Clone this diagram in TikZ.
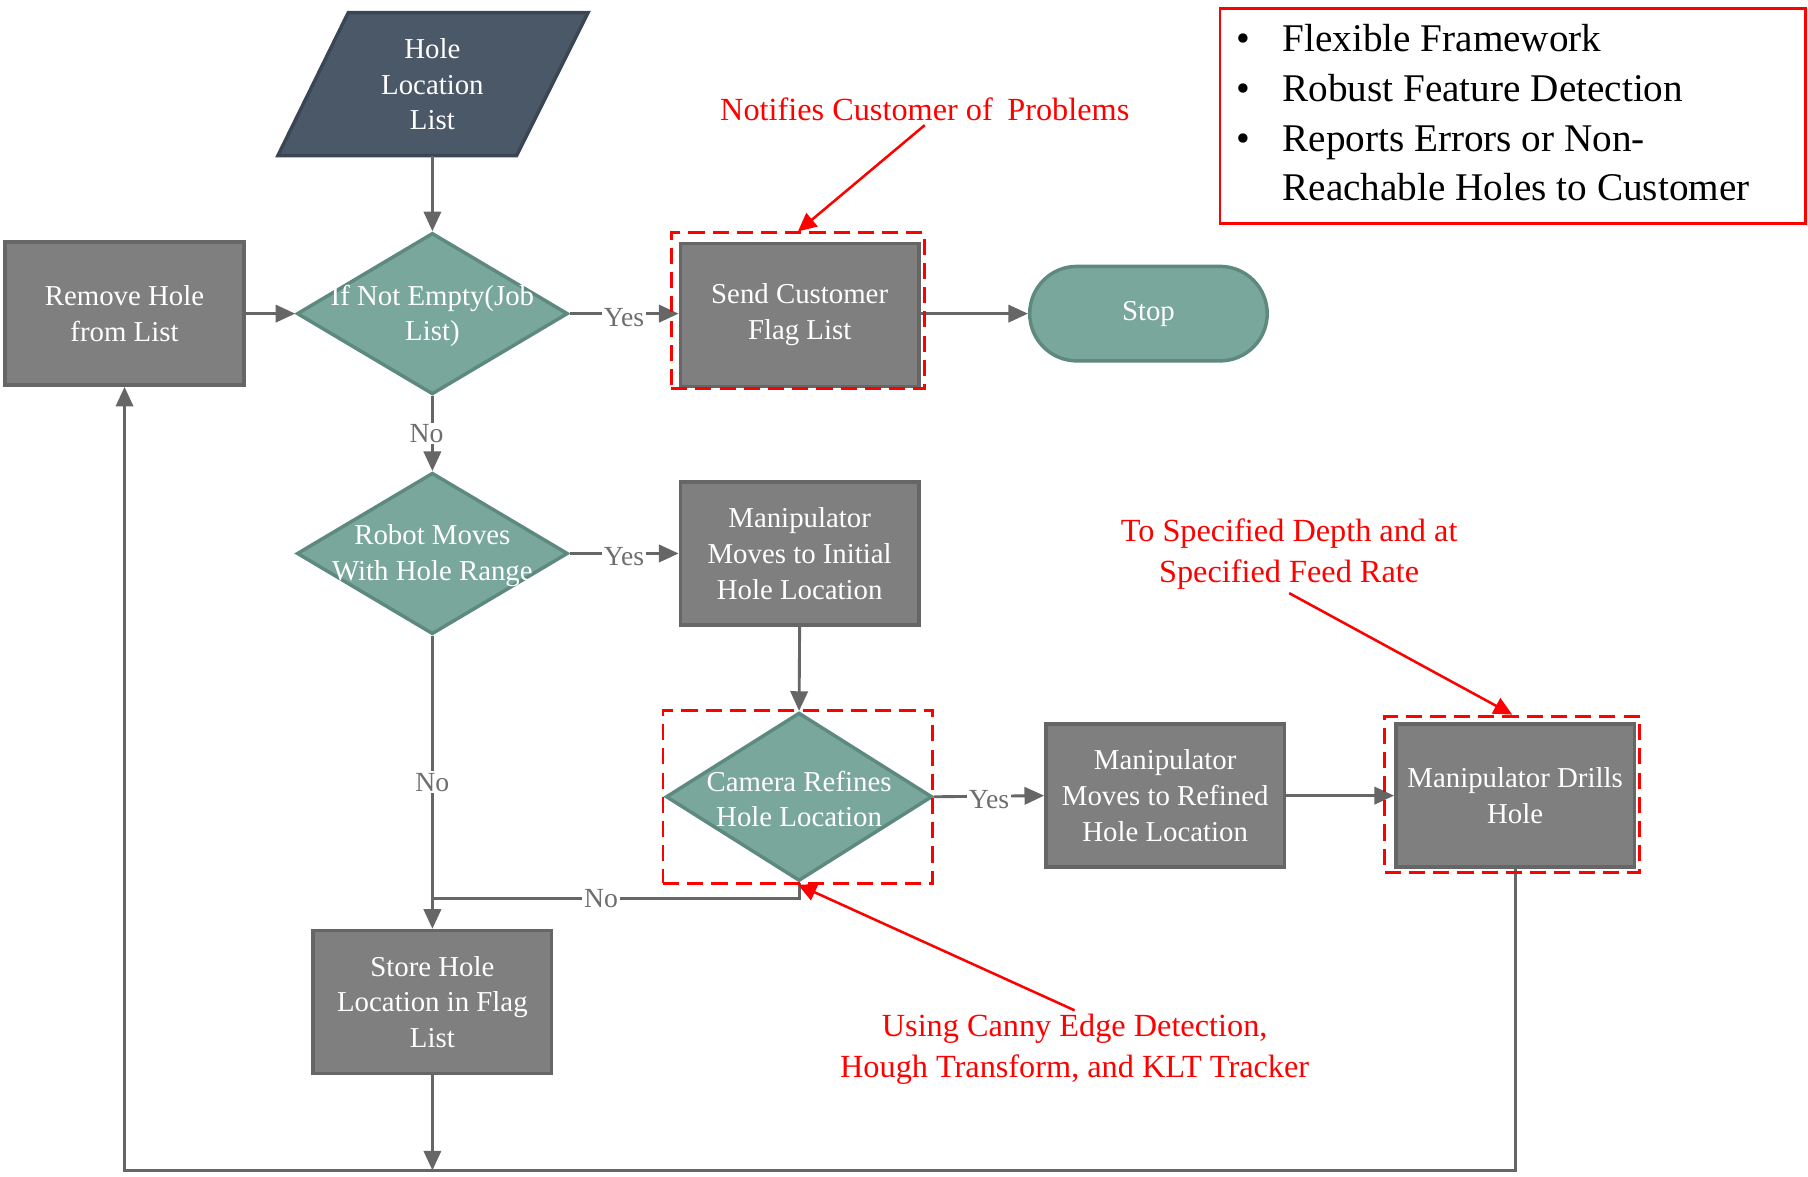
\documentclass[tikz,border=0pt]{standalone}
\usepackage{fontspec}
\setmainfont{Liberation Serif}
\usetikzlibrary{shapes.geometric,arrows.meta}
\definecolor{boxgray}{HTML}{7F7F7F}
\definecolor{boxedge}{HTML}{666666}
\definecolor{tealfill}{HTML}{7AA79B}
\definecolor{tealedge}{HTML}{5E897E}
\definecolor{slatefill}{HTML}{4A5868}
\definecolor{slateedge}{HTML}{3A4654}
\definecolor{conncol}{HTML}{666666}
\definecolor{labcol}{HTML}{6E6E6E}
\begin{document}
\begin{tikzpicture}[x=1pt,y=-1pt,
  nodefont/.style={font=\fontsize{25}{31}\selectfont},
  procbox/.style={rectangle, draw=boxedge, fill=boxgray, line width=3pt, minimum width=207pt, minimum height=124pt, text=white, align=center, inner sep=0pt, nodefont},
  decbox/.style={diamond, draw=tealedge, fill=tealfill, line width=3pt, minimum width=235pt, minimum height=140pt, inner sep=0pt},
  dectext/.style={text=white, align=center, inner sep=0pt, yshift=-2pt, nodefont},
  stopbox/.style={rectangle, rounded corners=41pt, draw=tealedge, fill=tealfill, line width=3pt, minimum width=206pt, minimum height=82pt, text=white, inner sep=0pt, nodefont},
  redbox/.style={rectangle, draw=red, line width=2.5pt, dash pattern=on 14pt off 7pt, inner sep=0pt},
  notetext/.style={text=red, align=center, font=\fontsize{28}{35}\selectfont},
  redarrow/.style={draw=red, line width=2.2pt, -{Triangle[length=16pt,width=15pt]}},
  conn/.style={draw=conncol, line width=2.5pt, -{Triangle[length=17pt,width=15pt]}},
  plainline/.style={draw=conncol, line width=2.5pt},
  lab/.style={fill=white, text=labcol, inner sep=1.5pt, font=\fontsize{24}{28}\selectfont},
  bultext/.style={anchor=base west, inner sep=0pt, font=\fontsize{34}{43}\selectfont},
  bulmark/.style={anchor=base, inner sep=0pt, font=\fontsize{34}{43}\selectfont}
]
\useasboundingbox (0,0) rectangle (1568,1020);

% input parallelogram
\fill[slatefill, draw=slateedge, line width=3pt, line join=miter] (302,11) -- (510,11) -- (448,135) -- (241,135) -- cycle;
\node[text=white, align=center, minimum height=124pt, minimum width=200pt, inner sep=0pt, outer sep=0pt, nodefont] (hole) at (375,73) {Hole\\Location\\List};

% process and decision nodes
\node[procbox] (remove) at (108,272) {Remove Hole\\from List};
\node[decbox, label={[dectext]center:If Not Empty(Job\\List)}] (d1) at (375,272) {};
\node[procbox] (send) at (693.5,273) {Send Customer\\Flag List};
\node[stopbox] (stop) at (996,272) {Stop};
\node[decbox, label={[dectext]center:Robot Moves\\With Hole Range}] (d2) at (375,480) {};
\node[procbox] (init) at (693.5,480) {Manipulator\\Moves to Initial\\Hole Location};
\node[decbox, minimum width=231pt, minimum height=146pt, label={[dectext]center:Camera Refines\\Hole Location}] (d3) at (693,691) {};
\node[procbox] (refined) at (1010.5,690) {Manipulator\\Moves to Refined\\Hole Location};
\node[procbox] (drill) at (1314,690) {Manipulator Drills\\Hole};
\node[procbox] (store) at (375,869) {Store Hole\\Location in Flag\\List};

% connectors
\draw[conn] (hole.south) -- (d1.north);
\draw[conn] (remove.east) -- (d1.west);
\draw[conn] (d1.east) -- node[lab, yshift=-3pt]{Yes} (send.west |- d1.east);
\draw[conn] (send.east |- stop.west) -- (stop.west);
\draw[conn] (d1.south) -- node[lab, xshift=-5pt]{No} (d2.north);
\draw[conn] (d2.east) -- node[lab, yshift=-3pt]{Yes} (init.west);
\draw[conn] (d2.south) -- node[lab]{No} (store.north);
\draw[conn] (init.south) -- (d3.north);
\draw[conn] (d3.east) -- node[lab, yshift=-3pt]{Yes} (refined.west);
\draw[conn] (refined.east) -- (drill.west);
\coordinate (merge) at (375,779);
\draw[plainline] (d3.south) |- node[lab, pos=0.77]{No} (merge);
\coordinate (bstore) at (375,1015);
\draw[conn] (store.south) -- (bstore);
\coordinate (bleft) at (108,1015);
\draw[conn] (drill.south) |- (bleft) -- (remove.south);

% dashed highlight boxes
\node[redbox, minimum width=220pt, minimum height=135pt] (sendbox) at (692,269.5) {};
\node[redbox, minimum width=234pt, minimum height=150pt] (cambox) at (692,691) {};
\node[redbox, minimum width=221pt, minimum height=136pt] (drillbox) at (1311.5,689) {};

% annotations
\node[notetext] (n1) at (802,95) {Notifies Customer of\hspace{0.45em}Problems};
\node[notetext] (n2) at (1118,480.5) {To Specified Depth and at\\Specified Feed Rate};
\node[notetext] (n3) at (932,910) {Using Canny Edge Detection,\\Hough Transform, and KLT Tracker};
\draw[redarrow] (n1.south) -- (sendbox.north);
\draw[redarrow] (n2.south) -- (drillbox.north);
\draw[redarrow] (n3.north) -- (cambox.south);

% bullet box
\node[rectangle, draw=red, line width=2.5pt, minimum width=508pt, minimum height=187pt, inner sep=0pt] (bulbox) at (1312,100.5) {};
\node[bulmark] (m1) at (1078,45) {\textbullet};
\node[bulmark] (m2) at (1078,88) {\textbullet};
\node[bulmark] (m3) at (1078,131) {\textbullet};
\node[bultext] (t1) at (1112,45) {Flexible Framework};
\node[bultext] (t2) at (1112,88) {Robust Feature Detection};
\node[bultext] (t3) at (1112,131) {Reports Errors or Non-};
\node[bultext] (t4) at (1112,174) {Reachable Holes to Customer};
\end{tikzpicture}
\end{document}
